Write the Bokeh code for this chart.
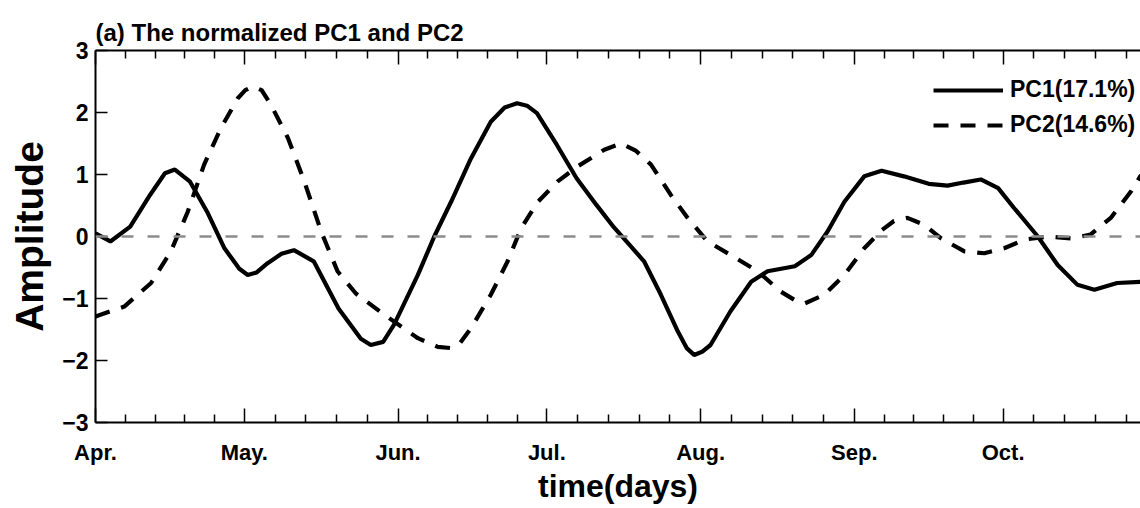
from bokeh.plotting import figure
from bokeh.models import (Range1d, FixedTicker, LinearAxis, Legend, LegendItem, Span)
from bokeh.embed import file_html
from bokeh.resources import INLINE

# ---- data (days since 1 April) ----
pc1_days = [0, 3, 7, 11, 14, 16, 19, 22.5, 26, 29, 30.7, 32.5, 34.7, 37.5, 40, 44, 49, 53.5,
            55.5, 58, 60.2, 65, 68.3, 71.7, 75.7, 79.7, 82.5, 85, 87, 89, 93, 97, 101,
            104.5, 107.5, 110.6, 114, 117.4, 119.2, 120.7, 122.3, 124, 128, 132.2, 135.5, 141, 144.3,
            147.6, 151, 155, 158.5, 163, 168, 171.8, 175, 178.5, 182, 185.2, 190,
            194, 198, 201.4, 206, 210.8]
pc1_vals = [0.05, -0.08, 0.16, 0.67, 1.02, 1.08, 0.89, 0.40, -0.19, -0.52, -0.62, -0.58, -0.43,
            -0.28, -0.22, -0.40, -1.16, -1.65, -1.75, -1.70, -1.42, -0.62, 0.0,
            0.56, 1.26, 1.85, 2.08, 2.15, 2.11, 1.99, 1.48, 0.94, 0.51, 0.15, -0.12, -0.40,
            -0.94, -1.53, -1.80, -1.91, -1.86, -1.75, -1.21, -0.73, -0.56, -0.48, -0.30, 0.08,
            0.56, 0.97, 1.06, 0.97, 0.85, 0.82, 0.87, 0.92, 0.78, 0.46, 0.0,
            -0.46, -0.78, -0.86, -0.75, -0.73]

pc2_days = [0, 5.8, 11.2, 15.2, 18.6, 21.9, 25.3, 28.7, 30.2, 31.7, 33.5, 35.4, 38.8,
            42.1, 45.5, 48.8, 52.5, 58.2, 65, 69, 71.7, 73.5, 75.7, 79.7, 83.1,
            85.8, 89.2, 93.2, 97.2, 102.6, 106, 109, 112, 116, 119.4, 123.4, 128.1,
            133.5, 138.2, 141.5, 143, 146.9, 151, 155, 158.5, 161, 163.7, 167.1,
            170.5, 175.2, 179.2, 183.2, 187.3, 192, 196.7, 200.6, 204.7, 208.8, 210.8]
pc2_vals = [-1.29, -1.13, -0.75, -0.24, 0.40, 1.16, 1.75, 2.23, 2.36, 2.42, 2.36, 2.12,
            1.59, 0.89, 0.08, -0.56, -0.92, -1.26, -1.64, -1.78, -1.80, -1.72,
            -1.48, -0.94, -0.40, 0.13, 0.56, 0.89, 1.13, 1.40, 1.50, 1.38, 1.16,
            0.67, 0.30, -0.08, -0.30, -0.56, -0.89, -1.05, -1.08, -0.94, -0.62,
            -0.19, 0.10, 0.25, 0.30, 0.19, -0.03, -0.24, -0.27, -0.19, -0.05,
            0.0, -0.03, 0.03, 0.30, 0.73, 0.99]

month_labels = ["Apr.", "May.", "Jun.", "Jul.", "Aug.", "Sep.", "Oct."]
month_lengths = [30, 31, 30, 31, 31, 30, 31]
y_ticks = [-3, -2, -1, 0, 1, 2, 3]
y_tick_labels = ["\u22123", "\u22122", "\u22121", "0", "1", "2", "3"]
legend_labels = ["PC1(17.1%)", "PC2(14.6%)"]
title_text = "(a) The normalized PC1 and PC2"
x_title = "time(days)"
y_title = "Amplitude"

# ticks
month_starts = []
minor = []
d = 0
for L in month_lengths:
    month_starts.append(d)
    for k in range(1, 5):
        minor.append(d + L * k / 5.0)
    d += L

FONT = "Liberation Sans"

p = figure(width=1140, height=508, output_backend="svg", toolbar_location=None,
           x_range=Range1d(0, 210.7), y_range=Range1d(-3, 3),
           min_border_left=95, min_border_right=0, min_border_top=50,
           min_border_bottom=86)
p.background_fill_color = "white"
p.border_fill_color = "white"
p.outline_line_color = None
p.grid.visible = False

p.title.text = title_text
p.title.text_font = FONT
p.title.text_font_size = "24px"
p.title.text_font_style = "bold"
p.title.text_color = "black"
p.title.align = "left"
p.title.offset = 0
p.title.standoff = 10

xt = FixedTicker(ticks=month_starts, minor_ticks=minor)
yt = FixedTicker(ticks=y_ticks, minor_ticks=[])

xa = p.xaxis[0]
xa.ticker = xt
xa.major_label_overrides = {m: lab for m, lab in zip(month_starts, month_labels)}
xa.axis_label = x_title
xa.axis_line_width = 2
xa.major_tick_in = 14
xa.major_tick_out = 0
xa.minor_tick_in = 8
xa.minor_tick_out = 0
xa.major_tick_line_width = 1.5
xa.minor_tick_line_width = 1.5
xa.major_label_text_font = FONT
xa.major_label_text_font_size = "22px"
xa.major_label_text_font_style = "bold"
xa.major_label_text_color = "black"
xa.major_label_standoff = 17
xa.axis_label_text_font = FONT
xa.axis_label_text_font_size = "32px"
xa.axis_label_text_font_style = "bold"
xa.axis_label_text_color = "black"
xa.axis_label_standoff = 0

ya = p.yaxis[0]
ya.ticker = yt
ya.major_label_overrides = {t: lab for t, lab in zip(y_ticks, y_tick_labels)}
ya.axis_label = y_title
ya.axis_line_width = 2
ya.major_tick_in = 12
ya.major_tick_out = 0
ya.major_tick_line_width = 1.5
ya.major_label_text_font = FONT
ya.major_label_text_font_size = "23px"
ya.major_label_text_font_style = "bold"
ya.major_label_text_color = "black"
ya.major_label_standoff = 7
ya.axis_label_text_font = FONT
ya.axis_label_text_font_size = "39px"
ya.axis_label_text_font_style = "bold"
ya.axis_label_text_color = "black"
ya.axis_label_standoff = 8

top = LinearAxis(ticker=FixedTicker(ticks=month_starts, minor_ticks=minor))
top.axis_line_width = 2
top.major_tick_in = 14
top.major_tick_out = 0
top.minor_tick_in = 8
top.minor_tick_out = 0
top.major_tick_line_width = 1.5
top.minor_tick_line_width = 1.5
top.major_label_overrides = {m: "" for m in month_starts}
top.major_label_text_font_size = "1px"
top.major_label_standoff = 0
p.add_layout(top, "above")

zero = Span(location=0, dimension="width", line_color="#8c8c8c",
            line_width=2.5, line_dash="12 14")
p.add_layout(zero)

r1 = p.line(pc1_days, pc1_vals, line_color="black", line_width=4.2)
r2 = p.line(pc2_days, pc2_vals, line_color="black", line_width=4.2,
            line_dash="15 12")

leg = Legend(items=[LegendItem(label=legend_labels[0], renderers=[r1]),
                    LegendItem(label=legend_labels[1], renderers=[r2])],
             location=(838, 284))
leg.border_line_color = None
leg.background_fill_alpha = 0
leg.padding = 0
leg.margin = 0
leg.glyph_width = 70
leg.glyph_height = 20
leg.label_height = 20
leg.spacing = 8
leg.label_standoff = 7
leg.label_text_font = FONT
leg.label_text_font_size = "23px"
leg.label_text_font_style = "bold"
leg.label_text_color = "black"
p.add_layout(leg)

open("out.html", "w").write(file_html(p, INLINE))
